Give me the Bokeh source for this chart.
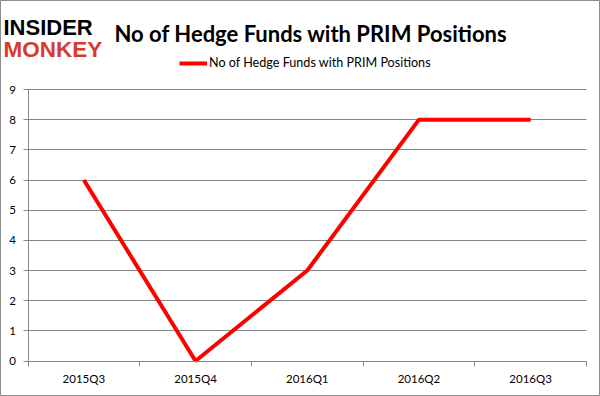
from bokeh.plotting import figure
from bokeh.models import (Range1d, FixedTicker, Label, Legend, LegendItem, ColumnDataSource)
from bokeh.embed import file_html
from bokeh.resources import INLINE

quarters = ["2015Q3", "2015Q4", "2016Q1", "2016Q2", "2016Q3"]
hedge_funds = [6, 0, 3, 8, 8]
y_ticks = list(range(0, 10))
series_name = "No of Hedge Funds with PRIM Positions"
title_text = "No of Hedge Funds with PRIM Positions"

GRID = "#868686"
W, H = 600, 396
n = len(quarters)
y_max = 9

# pixel geometry of the plotting area inside the canvas
AX_LEFT, AX_RIGHT = 27.5, 586.0
AX_BOTTOM, AX_TOP = 360.5, 89.0
ux = (AX_RIGHT - AX_LEFT) / n
uy = (AX_BOTTOM - AX_TOP) / y_max
x_range = Range1d(-AX_LEFT / ux, n + (W - AX_RIGHT) / ux)
y_range = Range1d(-(H - AX_BOTTOM) / uy, y_max + AX_TOP / uy)

xs = [i + 0.5 for i in range(n)]
src = ColumnDataSource(dict(x=xs, y=hedge_funds))

p = figure(width=W, height=H, output_backend="svg", toolbar_location=None,
           x_range=x_range, y_range=y_range,
           min_border=0, min_border_left=0, min_border_right=0,
           min_border_top=0, min_border_bottom=0)
p.background_fill_color = "white"
p.border_fill_color = "white"
p.outline_line_color = "#8c8c8c"
p.outline_line_width = 1

r = p.line("x", "y", source=src, line_color="#ff0000", line_width=4)

# x axis pinned at y=0
p.xaxis.fixed_location = 0
p.xaxis.bounds = (0, n)
p.xaxis.ticker = FixedTicker(ticks=xs, minor_ticks=list(range(n + 1)))
p.xaxis.major_label_overrides = {x: q for x, q in zip(xs, quarters)}
p.xaxis.major_tick_out = 0
p.xaxis.major_tick_in = 0
p.xaxis.minor_tick_out = 5
p.xaxis.minor_tick_in = 0
p.xaxis.minor_tick_line_color = GRID
p.xaxis.axis_line_color = GRID
p.xaxis.major_label_standoff = 6

# y axis pinned at x=0
p.yaxis.fixed_location = 0
p.yaxis.bounds = (0, y_max)
p.yaxis.ticker = FixedTicker(ticks=y_ticks)
p.yaxis.major_tick_out = 5
p.yaxis.major_tick_in = 0
p.yaxis.minor_tick_line_color = None
p.yaxis.major_tick_line_color = GRID
p.yaxis.axis_line_color = GRID
p.yaxis.major_label_standoff = 7
for ax in (p.xaxis, p.yaxis):
    ax.major_label_text_font = "Lato"
    ax.major_label_text_font_size = "11.5px"
    ax.major_label_text_color = "black"

p.xgrid.grid_line_color = None
p.ygrid.ticker = FixedTicker(ticks=y_ticks)
p.ygrid.grid_line_color = GRID
p.ygrid.grid_line_width = 1
try:
    p.ygrid.cross_bounds = (0, n)
except Exception:
    pass

legend = Legend(items=[LegendItem(label=series_name, renderers=[r])],
                location=(179, 326), orientation="horizontal",
                background_fill_alpha=0, border_line_color=None,
                padding=0, margin=0, glyph_width=28, glyph_height=12,
                label_standoff=2, label_text_font="Lato", label_text_font_size="12.6px",
                label_text_color="black")
p.add_layout(legend, "center")

# title and logo (screen units, from the bottom-left of the canvas)
p.add_layout(Label(x=114, y=363, x_units="screen", y_units="screen", text=title_text,
                   text_font="Lato", text_font_style="bold", text_font_size="22px",
                   text_color="black", text_baseline="alphabetic"))
p.add_layout(Label(x=3, y=369, x_units="screen", y_units="screen", text="INSIDER",
                   text_font="Liberation Sans", text_font_style="bold", text_font_size="22px",
                   text_color="black", text_baseline="alphabetic"))
p.add_layout(Label(x=3, y=347, x_units="screen", y_units="screen", text="MONKEY",
                   text_font="Liberation Sans", text_font_style="bold", text_font_size="22.5px",
                   text_color="#d63c2c", text_baseline="alphabetic"))

open("out.html", "w").write(file_html(p, INLINE))
